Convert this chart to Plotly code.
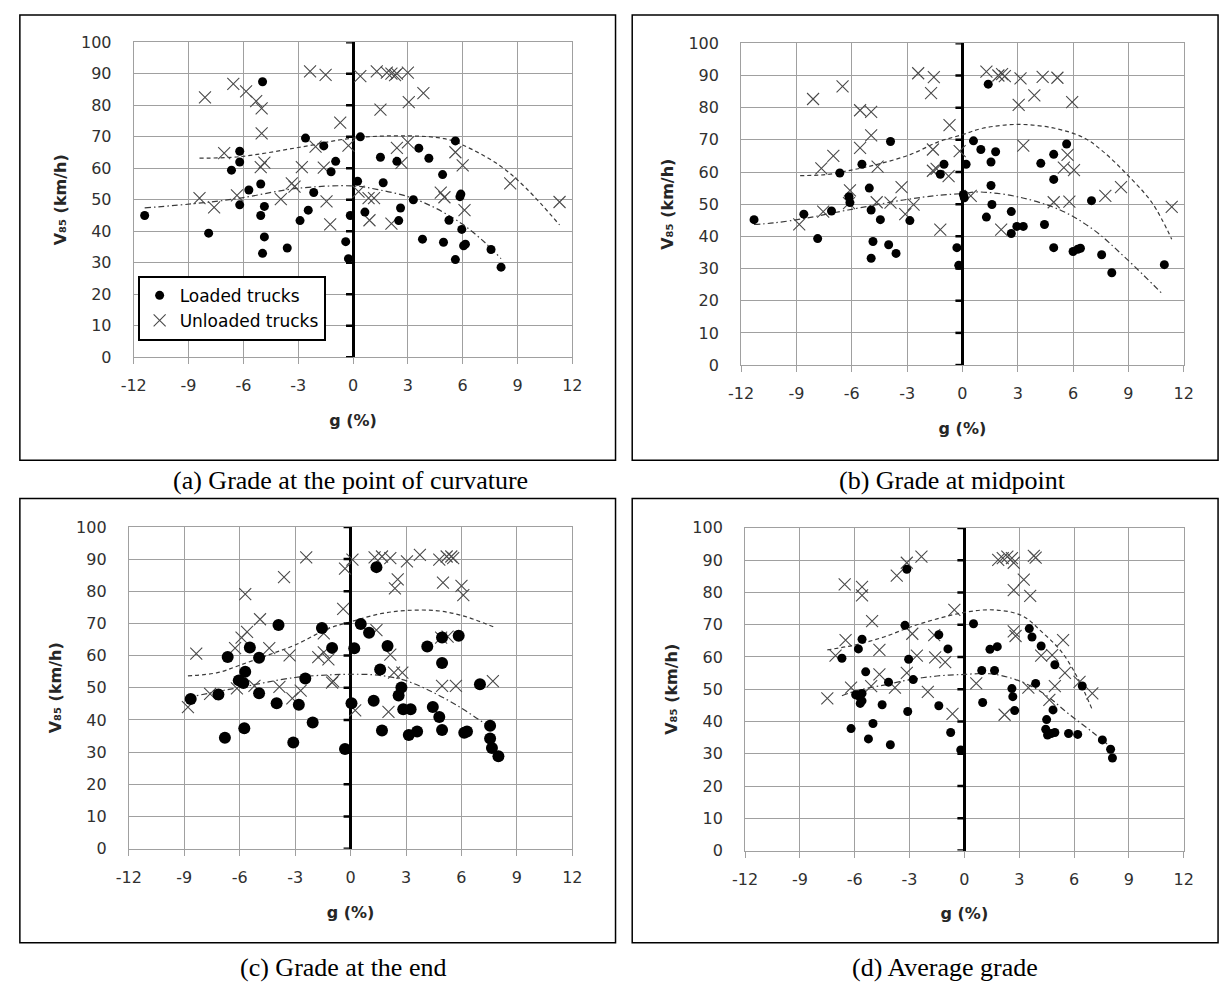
import plotly.graph_objects as go

W, H = 1231, 994

x_ticks = [-12, -9, -6, -3, 0, 3, 6, 9, 12]
y_ticks = [0, 10, 20, 30, 40, 50, 60, 70, 80, 90, 100]
series_names = ["Loaded trucks", "Unloaded trucks"]
x_title = "g (%)"
y_title = "V\u2088\u2085 (km/h)"
captions = ["(a) Grade at the point of curvature", "(b) Grade at midpoint",
            "(c) Grade at the end", "(d) Average grade"]

# ---------------- (a) grade at the point of curvature ----------------
a_loaded = [(-11.4, 45.0), (-7.9, 39.4), (-4.95, 87.5), (-6.2, 65.4), (-6.2, 62.0), (-6.65, 59.4),
            (-5.7, 53.1), (-5.05, 55.0), (-6.2, 48.4), (-4.85, 47.9), (-5.05, 45.0), (-4.85, 38.2),
            (-4.95, 33.0), (-3.6, 34.7), (-2.6, 69.6), (-1.6, 67.1), (-2.9, 43.4), (-2.45, 46.7),
            (-2.15, 52.3), (-1.2, 58.9), (-0.95, 62.2), (0.4, 70.0), (0.25, 55.9), (-0.15, 45.0),
            (-0.4, 36.7), (-0.25, 31.3), (1.5, 63.5), (1.65, 55.4), (0.65, 46.1), (2.4, 62.2),
            (2.6, 47.4), (2.5, 43.4), (3.3, 50.0), (3.6, 66.4), (4.15, 63.2), (4.9, 58.0),
            (3.8, 37.5), (4.95, 36.5), (5.25, 43.5), (5.6, 68.7), (5.9, 51.8), (5.85, 51.0),
            (5.95, 40.6), (6.05, 35.4), (6.15, 35.9), (5.6, 31.0), (7.55, 34.2), (8.1, 28.6)]
a_unloaded = [(-8.1, 82.5), (-8.4, 50.5), (-7.6, 47.6), (-7.05, 64.8), (-6.55, 86.8), (-5.85, 84.4),
              (-5.3, 81.3), (-5.0, 79.0), (-5.0, 71.1), (-5.05, 60.4), (-4.85, 61.8), (-6.35, 51.4),
              (-3.35, 55.2), (-3.2, 54.2), (-3.95, 50.2), (-2.8, 60.4), (-2.35, 90.8), (-1.5, 89.7),
              (-2.05, 66.9), (-1.6, 60.2), (-1.45, 49.5), (-1.25, 42.2), (-0.7, 74.5), (-0.25, 67.2),
              (0.4, 89.3), (1.3, 90.8), (1.5, 78.6), (1.85, 90.4), (2.1, 90.1), (2.3, 89.6),
              (2.4, 90.1), (3.0, 90.4), (3.05, 81.0), (3.85, 83.9), (2.4, 66.5), (2.65, 61.7),
              (3.0, 68.2), (0.3, 52.6), (0.85, 50.5), (1.15, 50.5), (0.9, 43.5), (2.1, 42.4),
              (4.8, 52.3), (5.0, 50.8), (5.6, 65.1), (6.0, 60.9), (6.1, 46.7), (8.6, 55.2), (11.3, 49.3)]
a_unl_trend = [(-8.4, 63.2), (-6.2, 63.7), (-3.0, 66.6), (0, 69.6), (3, 70.3), (5, 69.4), (6, 67.4),
               (8, 61.0), (9.5, 53.5), (11.3, 42.0)]
a_load_trend = [(-11.4, 47.4), (-8.3, 49.0), (-6.2, 50.5), (-3.1, 53.6), (0, 54.4), (1.3, 53.3),
                (3, 51.0), (4.5, 47.4), (6, 42.2), (7.2, 36.5), (8.1, 31.3)]

# ---------------- (b) grade at midpoint ----------------
b_loaded = [(-11.3, 45.2), (-8.6, 46.9), (-7.85, 39.3), (-7.1, 47.9), (-6.65, 59.7), (-5.45, 62.4),
            (-6.15, 52.3), (-6.1, 50.5), (-5.05, 55.0), (-4.95, 48.2), (-4.45, 45.2), (-4.85, 38.4),
            (-4.95, 33.2), (-4.0, 37.4), (-3.6, 34.7), (-3.9, 69.5), (-2.85, 44.9), (-1.2, 59.3),
            (-1.0, 62.4), (0.2, 62.4), (0.05, 53.0), (0.1, 52.0), (-0.3, 36.5), (-0.2, 31.0),
            (1.4, 87.3), (0.6, 69.7), (1.0, 67.0), (1.8, 66.3), (1.55, 63.1), (1.55, 55.8),
            (1.6, 49.9), (1.3, 46.0), (2.65, 47.7), (2.65, 40.9), (2.95, 43.1), (3.3, 43.1),
            (4.25, 62.7), (4.45, 43.7), (4.95, 65.5), (4.95, 57.7), (4.95, 36.5), (5.65, 68.7),
            (6.0, 35.3), (6.25, 36.0), (6.4, 36.3), (7.0, 51.1), (7.55, 34.3), (8.1, 28.7), (10.95, 31.2)]
b_unloaded = [(-8.1, 82.7), (-6.5, 86.6), (-5.55, 79.2), (-4.95, 78.7), (-4.95, 71.4), (-5.55, 67.5),
              (-7.0, 65.0), (-7.65, 61.1), (-4.6, 61.7), (-7.55, 47.7), (-8.85, 43.7), (-6.1, 54.3),
              (-6.15, 50.3), (-4.65, 50.6), (-3.9, 50.5), (-3.3, 55.3), (-3.1, 46.9), (-2.65, 49.9),
              (-2.4, 90.7), (-1.55, 89.5), (-1.7, 84.5), (-1.6, 67.0), (-1.6, 60.4), (-1.4, 61.0),
              (-1.2, 42.1), (-0.7, 74.6), (-0.15, 66.5), (-0.75, 58.7), (0.45, 52.6), (1.3, 91.2),
              (1.95, 90.0), (2.15, 90.4), (2.3, 89.8), (3.15, 89.1), (3.05, 80.9), (3.9, 83.8),
              (4.35, 89.6), (5.15, 89.3), (5.95, 81.7), (3.3, 68.2), (2.1, 42.1), (4.95, 50.6),
              (5.8, 50.8), (5.5, 61.4), (6.05, 60.6), (5.7, 65.3), (7.75, 52.6), (8.6, 55.3), (11.35, 49.2)]
b_unl_trend = [(-8.8, 58.9), (-7.4, 59.2), (-6.2, 60.4), (-4.6, 62.4), (-2.8, 65.5), (-1.25, 69.5),
               (0, 71.6), (1.1, 73.6), (3, 74.8), (5, 73.6), (6.6, 70.6), (7.6, 66.5), (8.9, 59.4),
               (10.3, 50.3), (11.35, 39.1)]
b_load_trend = [(-11.3, 43.7), (-10.2, 44.2), (-8.45, 45.7), (-6.2, 48.2), (-3.2, 51.3), (-1.25, 52.8),
                (0, 53.3), (0.9, 53.8), (3, 52.3), (5.3, 48.2), (7.1, 42.1), (8.9, 33.0), (10.9, 21.8)]

# ---------------- (c) grade at the end ----------------
c_loaded = [(-8.65, 46.5), (-7.15, 47.9), (-6.8, 34.5), (-6.65, 59.6), (-5.75, 37.4), (-6.05, 52.3),
            (-5.8, 51.5), (-5.7, 55.0), (-5.45, 62.5), (-4.95, 59.3), (-4.95, 48.3), (-4.0, 45.2),
            (-3.9, 69.5), (-3.1, 33.0), (-2.8, 44.7), (-2.45, 52.9), (-2.05, 39.2), (-1.55, 68.6),
            (-1.0, 62.4), (0.2, 62.3), (0.05, 45.2), (-0.3, 31.0), (0.55, 69.8), (1.0, 67.1),
            (1.4, 87.5), (1.6, 55.7), (1.25, 46.0), (1.7, 36.7), (2.0, 63.0), (2.75, 50.1),
            (2.6, 47.6), (2.85, 43.3), (3.25, 43.3), (3.15, 35.3), (3.6, 36.4), (4.15, 62.8),
            (4.45, 44.0), (4.8, 40.9), (4.95, 65.6), (4.95, 57.7), (4.95, 36.9), (5.85, 66.2),
            (6.15, 36.0), (6.3, 36.4), (7.0, 51.1), (7.55, 38.2), (7.55, 34.2), (7.65, 31.3), (8.0, 28.7)]
c_unloaded = [(-8.8, 44.0), (-8.35, 60.6), (-7.6, 48.1), (-6.15, 49.8), (-5.7, 79.1), (-5.9, 65.6),
              (-5.6, 67.4), (-6.25, 62.3), (-4.9, 71.3), (-4.4, 62.3), (-5.2, 50.6), (-3.85, 50.3),
              (-3.6, 84.4), (-3.3, 60.1), (-3.15, 46.7), (-2.7, 49.1), (-2.4, 90.5), (-1.75, 59.5),
              (-1.2, 58.8), (-1.0, 51.6), (-1.45, 66.9), (-1.45, 61.0), (-0.95, 52.1), (-0.4, 74.5),
              (-0.3, 87.0), (0.1, 89.8), (0.25, 43.0), (1.3, 90.5), (1.7, 90.8), (2.15, 90.3),
              (3.05, 89.3), (3.75, 91.3), (4.8, 89.8), (5.2, 90.8), (5.45, 90.8), (5.55, 90.3),
              (2.55, 83.7), (2.4, 80.9), (5.0, 82.7), (6.0, 81.7), (6.1, 78.8), (1.4, 67.9),
              (2.15, 60.3), (2.35, 54.7), (2.8, 54.7), (2.05, 42.5), (4.9, 65.6), (5.25, 65.9),
              (4.95, 50.6), (5.7, 50.6), (7.7, 52.1)]
c_unl_trend = [(-8.8, 53.7), (-7.2, 54.7), (-6.0, 57.0), (-4.4, 60.3), (-3.0, 63.3), (-1.2, 68.4),
               (0, 70.5), (1.6, 73.0), (3.0, 74.0), (4.6, 74.0), (6.0, 72.5), (7.75, 68.9)]
c_load_trend = [(-8.8, 47.0), (-7.4, 48.6), (-6.0, 50.1), (-3.0, 53.2), (-1.2, 54.0), (0, 54.2),
                (1.3, 54.0), (2.7, 52.7), (4.1, 49.6), (5.9, 44.0), (7.5, 37.9)]

# ---------------- (d) average grade ----------------
d_loaded = [(-6.7, 59.6), (-6.2, 37.8), (-5.6, 65.5), (-5.8, 62.5), (-5.4, 55.4), (-5.95, 48.3),
            (-5.8, 48.0), (-5.6, 48.7), (-5.6, 46.4), (-5.7, 45.6), (-5.25, 34.6), (-5.0, 39.4),
            (-4.5, 45.2), (-4.15, 52.2), (-4.05, 32.8), (-3.25, 69.8), (-3.15, 87.2), (-3.05, 59.3),
            (-2.8, 53.0), (-3.1, 43.1), (-1.4, 66.9), (-1.4, 44.9), (-0.9, 62.5), (-0.75, 36.6),
            (-0.2, 31.2), (0.5, 70.3), (1.4, 62.4), (1.8, 63.2), (0.95, 55.8), (1.65, 55.8),
            (1.0, 45.9), (2.6, 50.2), (2.65, 47.7), (2.75, 43.4), (3.55, 68.8), (3.7, 66.2),
            (3.9, 51.8), (4.2, 63.4), (4.95, 57.6), (4.85, 43.6), (4.5, 40.6), (4.45, 37.6),
            (4.55, 35.8), (4.75, 36.3), (4.95, 36.6), (5.7, 36.3), (6.2, 36.0), (6.45, 51.0),
            (7.55, 34.3), (8.0, 31.4), (8.1, 28.7)]
d_unloaded = [(-7.5, 47.2), (-6.55, 82.5), (-5.6, 81.7), (-5.6, 79.1), (-5.05, 71.1), (-6.5, 65.2),
              (-7.05, 60.4), (-4.65, 62.2), (-6.2, 50.5), (-5.1, 51.0), (-4.65, 54.6), (-3.8, 50.5),
              (-3.7, 85.2), (-3.15, 89.2), (-2.35, 91.1), (-3.15, 55.1), (-2.85, 67.2), (-2.6, 60.4),
              (-2.0, 49.2), (-1.6, 59.9), (-1.65, 66.8), (-1.05, 58.4), (-0.65, 42.4), (-0.55, 74.6),
              (0.65, 51.8), (1.85, 90.1), (2.1, 90.6), (2.35, 91.1), (2.6, 90.6), (2.7, 89.2),
              (3.8, 91.3), (3.9, 90.8), (3.25, 84.0), (2.7, 80.7), (3.6, 78.9), (2.7, 67.9),
              (2.8, 66.5), (3.5, 50.5), (2.2, 42.1), (4.2, 60.4), (4.8, 60.6), (5.4, 65.2),
              (5.5, 55.1), (4.95, 51.0), (4.65, 46.7), (6.3, 52.3), (7.0, 48.7)]
d_unl_trend = [(-7.5, 62.2), (-6.0, 63.7), (-4.4, 66.2), (-2.95, 69.3), (-1.5, 71.8), (0, 73.8),
               (1.55, 74.6), (3.15, 72.8), (4.25, 67.7), (5.3, 61.7), (6.2, 53.5), (7.0, 43.6)]
d_load_trend = [(-6.7, 48.0), (-5.8, 49.7), (-4.4, 51.3), (-2.95, 53.0), (-1.5, 54.1), (0, 54.6),
                (1.4, 54.8), (2.8, 53.0), (4.25, 49.0), (5.7, 42.4), (7.1, 36.3), (8.1, 31.7)]

# ---------------- layout geometry (pixels) ----------------
panels = [
    dict(loaded=a_loaded, unloaded=a_unloaded, tl=a_load_trend, tu=a_unl_trend,
         plot=(123, 570, 34, 355), box=(7, 6, 614, 460), cap=(344, 481), dot=9),
    dict(loaded=b_loaded, unloaded=b_unloaded, tl=b_load_trend, tu=b_unl_trend,
         plot=(742, 1193, 35, 363), box=(631, 6, 1228, 460), cap=(957, 481), dot=9),
    dict(loaded=c_loaded, unloaded=c_unloaded, tl=c_load_trend, tu=c_unl_trend,
         plot=(118, 570, 528, 856), box=(7, 499, 614, 952), cap=(336, 977), dot=12),
    dict(loaded=d_loaded, unloaded=d_unloaded, tl=d_load_trend, tu=d_unl_trend,
         plot=(746, 1193, 529, 858), box=(631, 499, 1228, 952), cap=(950, 977), dot=9),
]

def fx(p):
    return p / W

def fy(p):
    return 1 - p / H

GRID = "#a0a0a0"
TICKFONT = dict(family="DejaVu Sans", size=16, color="#303030")
TITLEFONT = dict(family="DejaVu Sans", size=16, color="#262626", weight="bold")
TREND_COL = "#3a3a3a"

fig = go.Figure()
layout = dict(width=W, height=H, margin=dict(l=0, r=0, t=0, b=0), autosize=False,
              paper_bgcolor="white", plot_bgcolor="white", shapes=[], annotations=[])

for i, p in enumerate(panels, start=1):
    xa, ya = f"x{i}", f"y{i}"
    l, r, t, b = p["plot"]
    sfx = "" if i == 1 else str(i)
    layout["xaxis" + sfx] = dict(domain=[fx(l), fx(r)], anchor=ya,
                                 range=[x_ticks[0], x_ticks[-1]], tickmode="array",
                                 tickvals=x_ticks, ticktext=[str(v) for v in x_ticks],
                                 showgrid=True, gridcolor=GRID, gridwidth=1,
                                 zeroline=True, zerolinecolor="black", zerolinewidth=3,
                                 showline=True, linecolor=GRID, linewidth=1, mirror=True,
                                 ticks="outside", ticklen=6, tickcolor=GRID,
                                 tickfont=TICKFONT, ticklabelstandoff=8, fixedrange=True,
                                 title=dict(text=x_title, font=TITLEFONT, standoff=20))
    layout["yaxis" + sfx] = dict(domain=[fy(b), fy(t)], anchor=xa,
                                 range=[y_ticks[0], y_ticks[-1]], tickmode="array",
                                 tickvals=y_ticks, ticktext=[str(v) for v in y_ticks],
                                 showgrid=True, gridcolor=GRID, gridwidth=1, zeroline=False,
                                 showline=True, linecolor=GRID, linewidth=1, mirror=True,
                                 ticks="", tickfont=TICKFONT, ticklabelstandoff=18,
                                 fixedrange=True,
                                 title=dict(text=y_title, font=TITLEFONT, standoff=10))
    # short tick marks on the heavy axis that crosses at g = 0
    for v in y_ticks:
        layout["shapes"].append(dict(type="line", xref=xa, yref=ya, xsizemode="pixel", xanchor=0,
                                     x0=-7, x1=0, y0=v, y1=v,
                                     line=dict(color="black", width=2.5)))

    # trend lines
    fig.add_trace(go.Scatter(x=[q[0] for q in p["tu"]], y=[q[1] for q in p["tu"]], mode="lines",
                             line=dict(color=TREND_COL, width=1.2, dash="4px,3px", shape="spline"),
                             xaxis=xa, yaxis=ya, showlegend=False, hoverinfo="skip"))
    fig.add_trace(go.Scatter(x=[q[0] for q in p["tl"]], y=[q[1] for q in p["tl"]], mode="lines",
                             line=dict(color=TREND_COL, width=1.2, dash="6px,3px,1.5px,3px",
                                       shape="spline"),
                             xaxis=xa, yaxis=ya, showlegend=False, hoverinfo="skip"))
    # markers
    fig.add_trace(go.Scatter(x=[q[0] for q in p["unloaded"]], y=[q[1] for q in p["unloaded"]],
                             mode="markers", name=series_names[1], legendgroup="u",
                             legendrank=2,
                             marker=dict(symbol="x-thin", size=12,
                                         line=dict(color="#4a4a4a", width=1.1)),
                             xaxis=xa, yaxis=ya, showlegend=(i == 1)))
    fig.add_trace(go.Scatter(x=[q[0] for q in p["loaded"]], y=[q[1] for q in p["loaded"]],
                             mode="markers", name=series_names[0], legendgroup="l",
                             legendrank=1,
                             marker=dict(symbol="circle", size=p["dot"], color="black"),
                             xaxis=xa, yaxis=ya, showlegend=(i == 1)))

    # outer frame of the panel
    bx0, by0, bx1, by1 = p["box"]
    layout["shapes"].append(dict(type="rect", xref="paper", yref="paper", x0=fx(bx0), x1=fx(bx1),
                                 y0=fy(by1), y1=fy(by0), line=dict(color="black", width=1.5),
                                 layer="below"))
    cx, cy = p["cap"]
    layout["annotations"].append(dict(xref="paper", yref="paper", x=fx(cx), y=fy(cy),
                                      text=captions[i - 1], showarrow=False, xanchor="center",
                                      yanchor="middle",
                                      font=dict(family="Liberation Serif", size=26, color="black")))

layout["legend"] = dict(x=fx(127), y=fy(272), xanchor="left", yanchor="top",
                        bordercolor="black", borderwidth=2, bgcolor="white",
                        font=dict(family="DejaVu Sans", size=17, color="black"),
                        tracegroupgap=10, traceorder="normal")
fig.update_layout(**layout)
fig.write_html("out.html")
